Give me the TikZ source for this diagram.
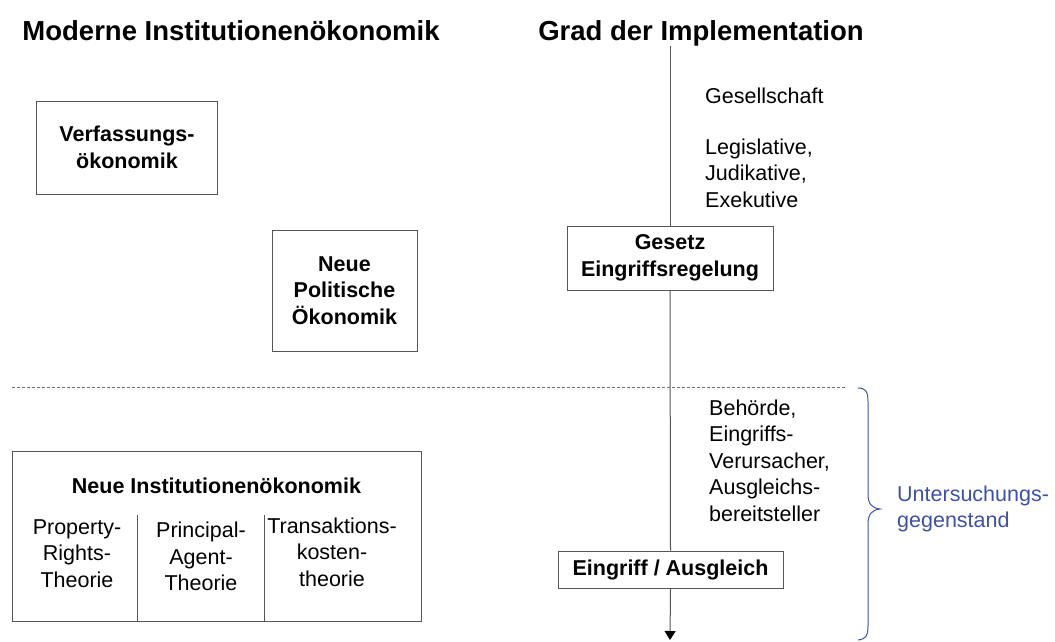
\documentclass[tikz,border=0pt]{standalone}
\usepackage{fontspec}
\setmainfont{Liberation Sans}
\usetikzlibrary{arrows.meta}
\definecolor{bracecol}{RGB}{63,81,165}
\definecolor{linecol}{RGB}{85,85,85}
\definecolor{dashcol}{RGB}{110,110,110}
\begin{document}
\begin{tikzpicture}[x=1pt,y=-1pt,
  body/.style={font=\fontsize{21.5}{26.5}\selectfont, inner sep=0pt},
  bbody/.style={font=\fontsize{21.5}{26.5}\selectfont\bfseries, inner sep=0pt},
  titl/.style={font=\fontsize{27.5}{33}\selectfont\bfseries, inner sep=0pt, anchor=base},
  box/.style={draw=linecol, line width=1pt, inner sep=0pt, align=center, font=\fontsize{21.5}{26.5}\selectfont\bfseries},
  frame/.style={draw=linecol, line width=1pt, inner sep=0pt},
  conn/.style={draw=linecol, line width=1pt},
]
\useasboundingbox (0,0) rectangle (1055,642);

% titles
\node[titl] (t1) at (231,41) {Moderne Institutionenökonomik};
\node[titl] (t2) at (701,41) {Grad der Implementation};

% left boxes
\node[box, minimum width=181pt, minimum height=93pt] (vf) at (127,147.5) {Verfassungs-\\ökonomik};
\node[box, minimum width=145pt, minimum height=121pt] (npo) at (344.5,290.5) {Neue\\Politische\\Ökonomik};

% right boxes
\node[box, minimum width=206pt, minimum height=64pt] (ges) at (670,258) {Gesetz\\Eingriffsregelung};
\node[box, minimum width=225pt, minimum height=37pt] (ein) at (670.5,569.5) {Eingriff / Ausgleich};

% vertical axis
\coordinate (vtop) at (670,46);
\coordinate (vbot) at (670,640);
\draw[conn] (vtop) -- (ges.north);
\draw[conn] (ges.south) -- (ein.north);
\draw[conn, -{Triangle[width=11pt,length=9pt,fill=black,color=black]}] (ein.south) -- (vbot);

% right texts
\node[body, anchor=base west] (gs) at (705,103) {Gesellschaft};
\node[body, anchor=north west, align=left] (lje) at (705,138.5) {Legislative,\\Judikative,\\Exekutive};
\node[body, anchor=north west, align=left] (beh) at (709,399.5) {Behörde,\\Eingriffs-\\Verursacher,\\Ausgleichs-\\bereitsteller};

% dashed separator
\coordinate (dl) at (12,387);
\coordinate (dr) at (847,387);
\draw[dashcol, line width=1pt, dash pattern=on 3pt off 2pt] (dl) -- (dr);

% Neue Institutionenoekonomik
\node[frame, minimum width=409pt, minimum height=170pt] (nio) at (216.5,536) {};
\node[bbody, anchor=base] (niot) at (216.5,493) {Neue Institutionenökonomik};
\coordinate (d1) at (137,515);
\coordinate (d2) at (264,515);
\draw[conn] (d1) -- (d1 |- nio.south);
\draw[conn] (d2) -- (d2 |- nio.south);
\node[body, anchor=north, align=center] (prt) at (77,519.5) {Property-\\Rights-\\Theorie};
\node[body, anchor=north, align=center] (pat) at (201,522) {Principal-\\Agent-\\Theorie};
\node[body, anchor=north, align=center] (tkt) at (332,517.5) {Transaktions-\\kosten-\\theorie};

% brace
\draw[bracecol, line width=1pt] (858,388) .. controls (866,388) and (868,392) .. (868,402)
  -- (868,494) .. controls (868,504) and (872,508) .. (880,509)
  .. controls (872,510) and (868,514) .. (868,524)
  -- (868,626) .. controls (868,636) and (866,639) .. (858,640);
\node[body, text=bracecol, anchor=north west, align=left] (ug) at (897,485.5) {Untersuchungs-\\gegenstand};
\end{tikzpicture}
\end{document}
